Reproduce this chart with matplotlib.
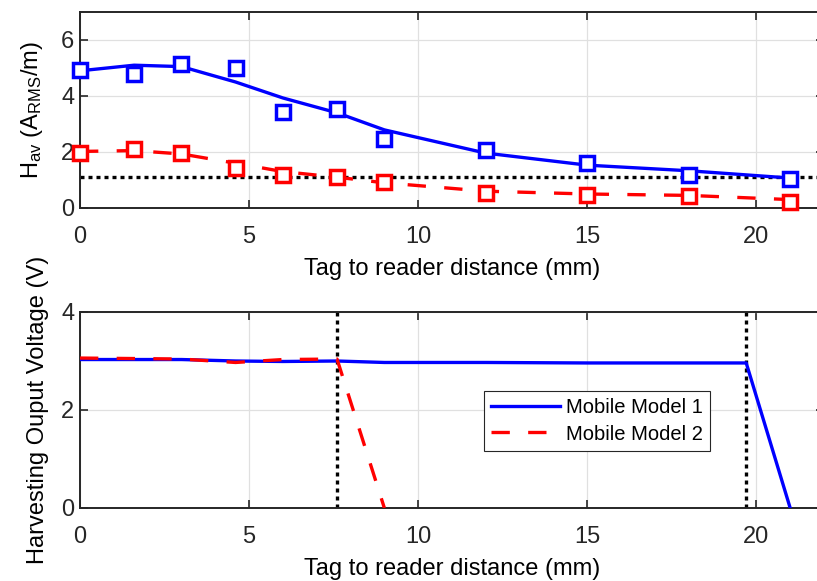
import matplotlib
matplotlib.use("Agg")
import matplotlib.pyplot as plt

plt.rcParams['font.family'] = ['Liberation Sans', 'DejaVu Sans']
plt.rcParams['mathtext.fontset'] = 'custom'
plt.rcParams['mathtext.rm'] = 'Liberation Sans'
plt.rcParams['mathtext.it'] = 'Liberation Sans'

# distances (mm)
dist = [0, 1.6, 3, 4.6, 6, 7.6, 9, 12, 15, 18, 21]

# top plot: measured H_av (squares) and fitted curves
h1_meas = [4.93, 4.79, 5.14, 5.0, 3.43, 3.54, 2.46, 2.07, 1.6, 1.18, 1.04]
h2_meas = [1.96, 2.1, 1.96, 1.42, 1.18, 1.12, 0.93, 0.54, 0.46, 0.44, 0.23]
h1_fit = [4.9, 5.1, 5.05, 4.5, 3.93, 3.4, 2.79, 1.96, 1.53, 1.33, 1.07]
h2_fit = [2.02, 2.05, 1.93, 1.6, 1.3, 1.1, 0.9, 0.6, 0.5, 0.45, 0.3]
h_thresh = 1.12

# bottom plot: harvesting output voltage
v1_x = [0, 1.6, 3, 4.6, 6, 7.6, 9, 12, 15, 18, 19.7, 21]
v1 = [3.03, 3.03, 3.03, 3.0, 2.99, 3.0, 2.97, 2.97, 2.96, 2.96, 2.96, 0]
v2_x = [0, 1.6, 3, 4.6, 6, 7.6, 9]
v2 = [3.06, 3.05, 3.04, 2.97, 3.03, 3.04, 0]
v_cut = [7.6, 19.7]

W, H = 817, 581
fig = plt.figure(figsize=(W / 100, H / 100), dpi=100)
x0, x1 = 80, 824
ax1 = fig.add_axes([x0 / W, 1 - 208 / H, (x1 - x0) / W, (208 - 12) / H])
ax2 = fig.add_axes([x0 / W, 1 - 508 / H, (x1 - x0) / W, (508 - 312) / H])

lw = 2.4
fs = 17
dashed = (0, (5.5, 5.5))
dotted = (0, (1.2, 1.2))

ax1.axhline(h_thresh, color='black', ls=dotted, lw=lw, zorder=2)
ax1.plot(dist, h1_fit, color='blue', lw=lw, zorder=3)
ax1.plot(dist, h2_fit, color='red', lw=lw, ls=dashed, zorder=3)
ax1.plot(dist, h1_meas, ls='none', marker='s', ms=10, mfc='white',
         mec='blue', mew=2.5, zorder=4, clip_on=False)
ax1.plot(dist, h2_meas, ls='none', marker='s', ms=10, mfc='white',
         mec='red', mew=2.5, zorder=4, clip_on=False)
ax1.set_ylim(0, 7)
ax1.set_yticks([0, 2, 4, 6])
ax1.set_ylabel(r'H$_{\rm av}$ (A$_{\rm RMS}$/m)', fontsize=fs, labelpad=12)

ax2.plot(v1_x, v1, color='blue', lw=lw, label='Mobile Model 1', zorder=3)
ax2.plot(v2_x, v2, color='red', lw=lw, ls=dashed, label='Mobile Model 2', zorder=3)
for xc in v_cut:
    ax2.axvline(xc, color='black', ls=dotted, lw=lw, zorder=2)
ax2.set_ylim(0, 4)
ax2.set_yticks([0, 2, 4])
ax2.set_ylabel('Harvesting Ouput Voltage (V)', fontsize=fs, labelpad=9)
leg = ax2.legend(loc='center', bbox_to_anchor=(0.695, 0.444), fontsize=14.5,
                 fancybox=False, edgecolor='#262626', framealpha=1,
                 handlelength=3.4, handletextpad=0.3, borderpad=0.35,
                 labelspacing=0.35)
leg.get_frame().set_linewidth(0.8)

for ax in (ax1, ax2):
    ax.set_xlim(0, 22)
    ax.set_xticks([0, 5, 10, 15, 20])
    ax.set_xlabel('Tag to reader distance (mm)', fontsize=fs, labelpad=7)
    ax.grid(True, color='#e0e0e0', lw=0.9)
    ax.set_axisbelow(True)
    ax.tick_params(direction='in', labelsize=fs, length=5.5, width=1.2,
                   colors='#262626', top=True, right=True, labelcolor='#262626')
    ax.tick_params(axis='x', pad=13)
    ax.tick_params(axis='y', pad=4)
    for s in ax.spines.values():
        s.set_linewidth(1.4)
        s.set_color('#262626')

fig.savefig('out.png', dpi=100)
